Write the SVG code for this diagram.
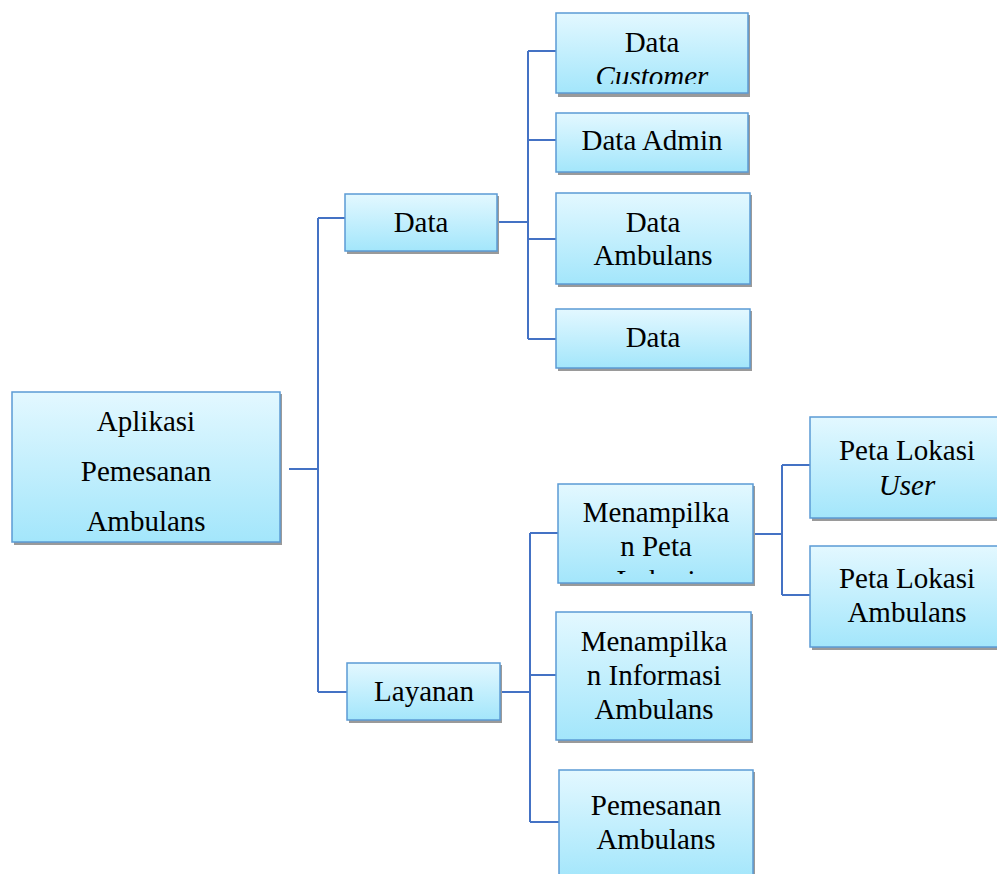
<svg xmlns="http://www.w3.org/2000/svg" width="997" height="874" viewBox="0 0 997 874">
  <defs>
    <linearGradient id="boxFill" x1="0" y1="0" x2="0" y2="1">
      <stop offset="0" stop-color="#E3F8FF"/>
      <stop offset="1" stop-color="#A3E6FB"/>
    </linearGradient>
    <clipPath id="clipCustomer"><rect x="556" y="13" width="192" height="71"/></clipPath>
    <clipPath id="clipPeta"><rect x="558" y="484" width="195" height="90"/></clipPath>
    <style>
      .shadow { fill: #9A9A9A; }
      .box { fill: url(#boxFill); stroke: #5B9BD5; stroke-width: 1.5; }
      .lbl { font-family: "Liberation Serif", "Times New Roman", serif; font-size: 29px; fill: #000; text-anchor: middle; }
      .it { font-style: italic; }
      .conn { fill: none; stroke: #4472C4; stroke-width: 2; }
    </style>
  </defs>
  <rect width="997" height="874" fill="#FFFFFF"/>

  <g id="connectors">
    <path class="conn" d="M289 469 H318 M318 218 V692 M318 218 H345 M318 692 H347"/>
    <path class="conn" d="M497 222 H528 M528 51 V339 M528 51 H556 M528 140 H556 M528 239 H556 M528 339 H556"/>
    <path class="conn" d="M500 692 H530 M530 533 V822 M530 533 H558 M530 675 H556 M530 822 H559"/>
    <path class="conn" d="M753 534 H782 M782 465 V595 M782 465 H810 M782 595 H810"/>
  </g>

  <g id="node-aplikasi">
    <rect class="shadow" x="14" y="394" width="268" height="151"/>
    <rect class="box" x="12" y="392" width="268" height="150"/>
    <text class="lbl" x="146" y="431">Aplikasi</text>
    <text class="lbl" x="146" y="481">Pemesanan</text>
    <text class="lbl" x="146" y="531">Ambulans</text>
  </g>

  <g id="node-data">
    <rect class="shadow" x="347" y="196" width="152" height="58"/>
    <rect class="box" x="345" y="194" width="152" height="57"/>
    <text class="lbl" x="421" y="232">Data</text>
  </g>

  <g id="node-layanan">
    <rect class="shadow" x="349" y="665" width="153" height="58"/>
    <rect class="box" x="347" y="663" width="153" height="57"/>
    <text class="lbl" x="424" y="701">Layanan</text>
  </g>

  <g id="node-data-customer">
    <rect class="shadow" x="558" y="15" width="192" height="82"/>
    <rect class="box" x="556" y="13" width="192" height="80"/>
    <g clip-path="url(#clipCustomer)">
      <text class="lbl" x="652" y="52">Data</text>
      <text class="lbl it" x="652" y="86">Customer</text>
    </g>
  </g>

  <g id="node-data-admin">
    <rect class="shadow" x="558" y="115" width="192" height="60"/>
    <rect class="box" x="556" y="113" width="192" height="59"/>
    <text class="lbl" x="652" y="150">Data Admin</text>
  </g>

  <g id="node-data-ambulans">
    <rect class="shadow" x="558" y="195" width="194" height="92"/>
    <rect class="box" x="556" y="193" width="194" height="91"/>
    <text class="lbl" x="653" y="232">Data</text>
    <text class="lbl" x="653" y="265">Ambulans</text>
  </g>

  <g id="node-data-4">
    <rect class="shadow" x="558" y="311" width="194" height="60"/>
    <rect class="box" x="556" y="309" width="194" height="59"/>
    <text class="lbl" x="653" y="347">Data</text>
  </g>

  <g id="node-peta">
    <rect class="shadow" x="560" y="486" width="195" height="100"/>
    <rect class="box" x="558" y="484" width="195" height="99"/>
    <g clip-path="url(#clipPeta)">
      <text class="lbl" x="656" y="522">Menampilka</text>
      <text class="lbl" x="656" y="556">n Peta</text>
      <text class="lbl" x="656" y="590">Lokasi</text>
    </g>
  </g>

  <g id="node-info">
    <rect class="shadow" x="558" y="614" width="195" height="129"/>
    <rect class="box" x="556" y="612" width="195" height="128"/>
    <text class="lbl" x="654" y="651">Menampilka</text>
    <text class="lbl" x="654" y="685">n Informasi</text>
    <text class="lbl" x="654" y="719">Ambulans</text>
  </g>

  <g id="node-pemesanan">
    <rect class="shadow" x="561" y="772" width="194" height="110"/>
    <rect class="box" x="559" y="770" width="194" height="110"/>
    <text class="lbl" x="656" y="815">Pemesanan</text>
    <text class="lbl" x="656" y="849">Ambulans</text>
  </g>

  <g id="node-peta-user">
    <rect class="shadow" x="812" y="419" width="190" height="102"/>
    <rect class="box" x="810" y="417" width="190" height="101"/>
    <text class="lbl" x="907" y="460">Peta Lokasi</text>
    <text class="lbl it" x="907" y="495">User</text>
  </g>

  <g id="node-peta-ambulans">
    <rect class="shadow" x="812" y="548" width="190" height="102"/>
    <rect class="box" x="810" y="546" width="190" height="101"/>
    <text class="lbl" x="907" y="588">Peta Lokasi</text>
    <text class="lbl" x="907" y="622">Ambulans</text>
  </g>
</svg>
